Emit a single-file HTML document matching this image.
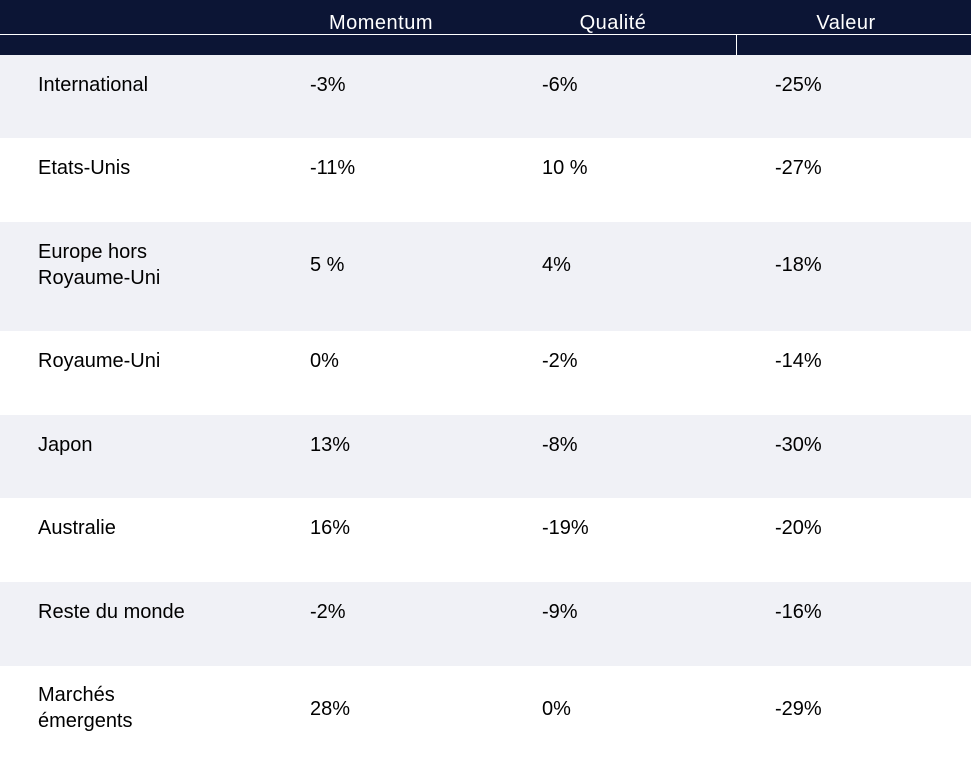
<!DOCTYPE html>
<html><head><meta charset="utf-8"><style>
body{margin:0;width:971px;height:766px;overflow:hidden;background:#fff;font-family:"Liberation Sans",Arial,sans-serif;}
.hdr{position:absolute;left:0;top:0;width:971px;height:55px;background:#0c1535;}
.hl{position:absolute;left:0;top:34px;width:971px;height:1px;background:#fff;}
.vl{position:absolute;left:736px;top:35px;width:1px;height:20px;background:#fff;}
.ht{position:absolute;top:12px;color:#fff;font-size:20px;letter-spacing:0.5px;transform:translateX(-50%);white-space:nowrap;}
.row{position:absolute;left:0;width:971px;}
.c{position:absolute;font-size:20px;color:#000;line-height:26px;transform:translateY(-50%);}
</style></head><body>
<div class="hdr">
<div class="hl"></div>
<div class="vl"></div>
<div class="ht" style="left:381px">Momentum</div>
<div class="ht" style="left:613px">Qualité</div>
<div class="ht" style="left:846px">Valeur</div>
</div>
<div id="body"></div>
<script>
const regions=["International","Etats-Unis","Europe hors<br>Royaume-Uni","Royaume-Uni","Japon","Australie","Reste du monde","Marchés<br>émergents"];
const momentum=["-3%","-11%","5 %","0%","13%","16%","-2%","28%"];
const qualite=["-6%","10 %","4%","-2%","-8%","-19%","-9%","0%"];
const valeur=["-25%","-27%","-18%","-14%","-30%","-20%","-16%","-29%"];
const bounds=[55,138,222,331,415,498,582,666,766];
const body=document.getElementById('body');
regions.forEach((r,i)=>{
  const row=document.createElement('div');
  row.className='row';
  
  
  row.style.top=bounds[i]+'px';
  const h=bounds[i+1]-bounds[i];
  row.style.height=h+'px';
  row.style.background=i%2===0?'#f0f1f6':'#ffffff';
  const mid=i===7?h/2-3:(i===2?h/2-12:h/2-12);
  const cols=[[38,r],[310,momentum[i]],[542,qualite[i]],[775,valeur[i]]];
  const names=['region-cell','momentum-cell','qualite-cell','valeur-cell'];
  cols.forEach((c,j)=>{
    const d=document.createElement('div');
    d.className='c';
    
    
    d.style.left=c[0]+'px';
    let y=mid;
    if(i===2&&j>0)y=h/2-12;
    if(i===2&&j===0)y=h/2-12;
    if(i===7&&j>0)y=h/2-7;
    if(i===7&&j===0)y=h/2-8;
    d.style.top=y+'px';
    d.innerHTML=c[1];
    row.appendChild(d);
  });
  body.appendChild(row);
});
</script>
</body></html>
